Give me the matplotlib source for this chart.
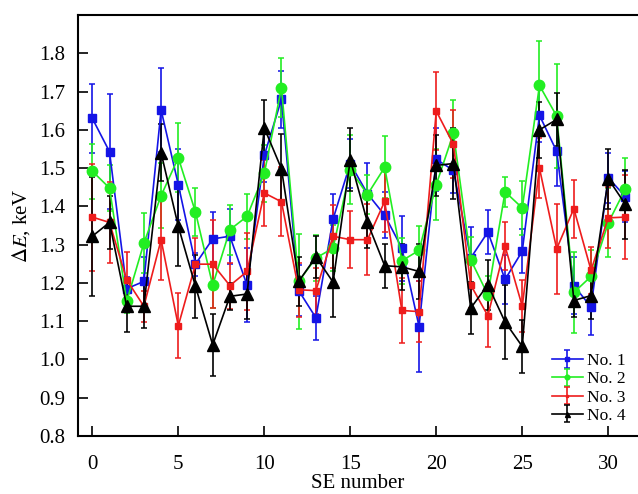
import matplotlib
matplotlib.use("Agg")
import matplotlib.pyplot as plt

# numero de SE (eje x)
se = list(range(32))

# valores de cada serie (keV)
no1 = [1.630, 1.543, 1.185, 1.204, 1.652, 1.457, 1.249, 1.315, 1.322, 1.194,
       1.533, 1.680, 1.180, 1.109, 1.367, 1.512, 1.433, 1.377, 1.291, 1.086,
       1.523, 1.494, 1.265, 1.333, 1.209, 1.283, 1.638, 1.544, 1.193, 1.137,
       1.475, 1.425]
no2 = [1.492, 1.448, 1.152, 1.304, 1.428, 1.527, 1.385, 1.194, 1.339, 1.374,
       1.486, 1.710, 1.204, 1.265, 1.291, 1.496, 1.431, 1.502, 1.258, 1.285,
       1.457, 1.591, 1.261, 1.169, 1.438, 1.396, 1.716, 1.636, 1.175, 1.217,
       1.357, 1.446]
no3 = [1.372, 1.358, 1.208, 1.139, 1.313, 1.088, 1.249, 1.249, 1.193, 1.230,
       1.435, 1.412, 1.182, 1.180, 1.322, 1.313, 1.313, 1.413, 1.128, 1.125,
       1.649, 1.562, 1.195, 1.114, 1.296, 1.139, 1.500, 1.289, 1.394, 1.233,
       1.370, 1.372]
no4 = [1.322, 1.358, 1.139, 1.139, 1.540, 1.348, 1.191, 1.038, 1.165, 1.171,
       1.605, 1.498, 1.204, 1.268, 1.202, 1.522, 1.358, 1.245, 1.242, 1.230,
       1.507, 1.512, 1.134, 1.195, 1.098, 1.034, 1.600, 1.627, 1.154, 1.167,
       1.472, 1.405]

# errores de cada serie
err1 = [0.090, 0.150, 0.030, 0.065, 0.110, 0.093, 0.030, 0.070, 0.072, 0.096,
        0.070, 0.075, 0.066, 0.058, 0.065, 0.063, 0.080, 0.060, 0.085, 0.120,
        0.083, 0.060, 0.080, 0.058, 0.065, 0.057, 0.070, 0.090, 0.074, 0.072,
        0.065, 0.067]
err2 = [0.072, 0.060, 0.030, 0.079, 0.085, 0.090, 0.062, 0.060, 0.065, 0.058,
        0.075, 0.077, 0.124, 0.060, 0.060, 0.090, 0.050, 0.081, 0.060, 0.063,
        0.093, 0.086, 0.060, 0.050, 0.040, 0.070, 0.116, 0.135, 0.106, 0.070,
        0.090, 0.081]
err3 = [0.140, 0.106, 0.072, 0.040, 0.105, 0.085, 0.068, 0.115, 0.060, 0.100,
        0.085, 0.090, 0.070, 0.060, 0.082, 0.074, 0.093, 0.080, 0.084, 0.080,
        0.102, 0.089, 0.060, 0.082, 0.063, 0.068, 0.079, 0.117, 0.076, 0.061,
        0.080, 0.110]
err4 = [0.155, 0.070, 0.067, 0.057, 0.075, 0.103, 0.082, 0.080, 0.035, 0.065,
        0.072, 0.090, 0.065, 0.055, 0.092, 0.082, 0.068, 0.057, 0.060, 0.072,
        0.079, 0.092, 0.068, 0.065, 0.097, 0.070, 0.074, 0.070, 0.042, 0.060,
        0.079, 0.089]

etiquetas = ["No. 1", "No. 2", "No. 3", "No. 4"]

plt.rcParams['font.family'] = ['Liberation Serif', 'DejaVu Serif']
plt.rcParams['mathtext.fontset'] = 'stix'

fig = plt.figure(figsize=(6.38, 4.94), dpi=100)
ax = fig.add_axes([0.1223, 0.1174, 0.8777, 0.8522])

# estilo de cada serie: color, marcador, tamanio
estilos = [("#1414e6", "s", 5.5),
           ("#22ee22", "o", 7.5),
           ("#ee1c1c", "s", 4.0),
           ("#000000", "^", 8.0)]

series = [(no1, err1), (no2, err2), (no3, err3), (no4, err4)]
for (valores, errores), (color, marca, tam), etiqueta in zip(series, estilos, etiquetas):
    ax.errorbar(se, valores, yerr=errores, color=color, marker=marca,
                markersize=tam, linewidth=1.2, elinewidth=1.2,
                capsize=2.5, capthick=1.1, label=etiqueta)

ax.set_xlim(-0.83, 31.73)
ax.set_ylim(0.8, 1.9)
ax.set_xticks([0, 5, 10, 15, 20, 25, 30])
ax.set_yticks([0.8, 0.9, 1.0, 1.1, 1.2, 1.3, 1.4, 1.5, 1.6, 1.7, 1.8])
ax.set_yticklabels(["0.8", "0.9", "1.0", "1.1", "1.2", "1.3", "1.4",
                    "1.5", "1.6", "1.7", "1.8"])
ax.tick_params(direction='in', length=7, width=1.2, labelsize=15, pad=9)
ax.tick_params(axis='x', pad=14)
for lado in ['left', 'bottom', 'top']:
    ax.spines[lado].set_linewidth(1.5)
ax.spines['right'].set_visible(False)

ax.set_xlabel("SE number", fontsize=15, labelpad=0)
ax.set_ylabel(r"$\Delta E$, keV", fontsize=15, labelpad=5)

# leyenda abajo a la derecha, sin marco
leg = ax.legend(loc='lower right', frameon=False, fontsize=12.5,
                handlelength=1.8, handletextpad=0.25, labelspacing=0.12,
                markerscale=0.45, borderaxespad=0.3)

fig.savefig("out.png", dpi=100)
